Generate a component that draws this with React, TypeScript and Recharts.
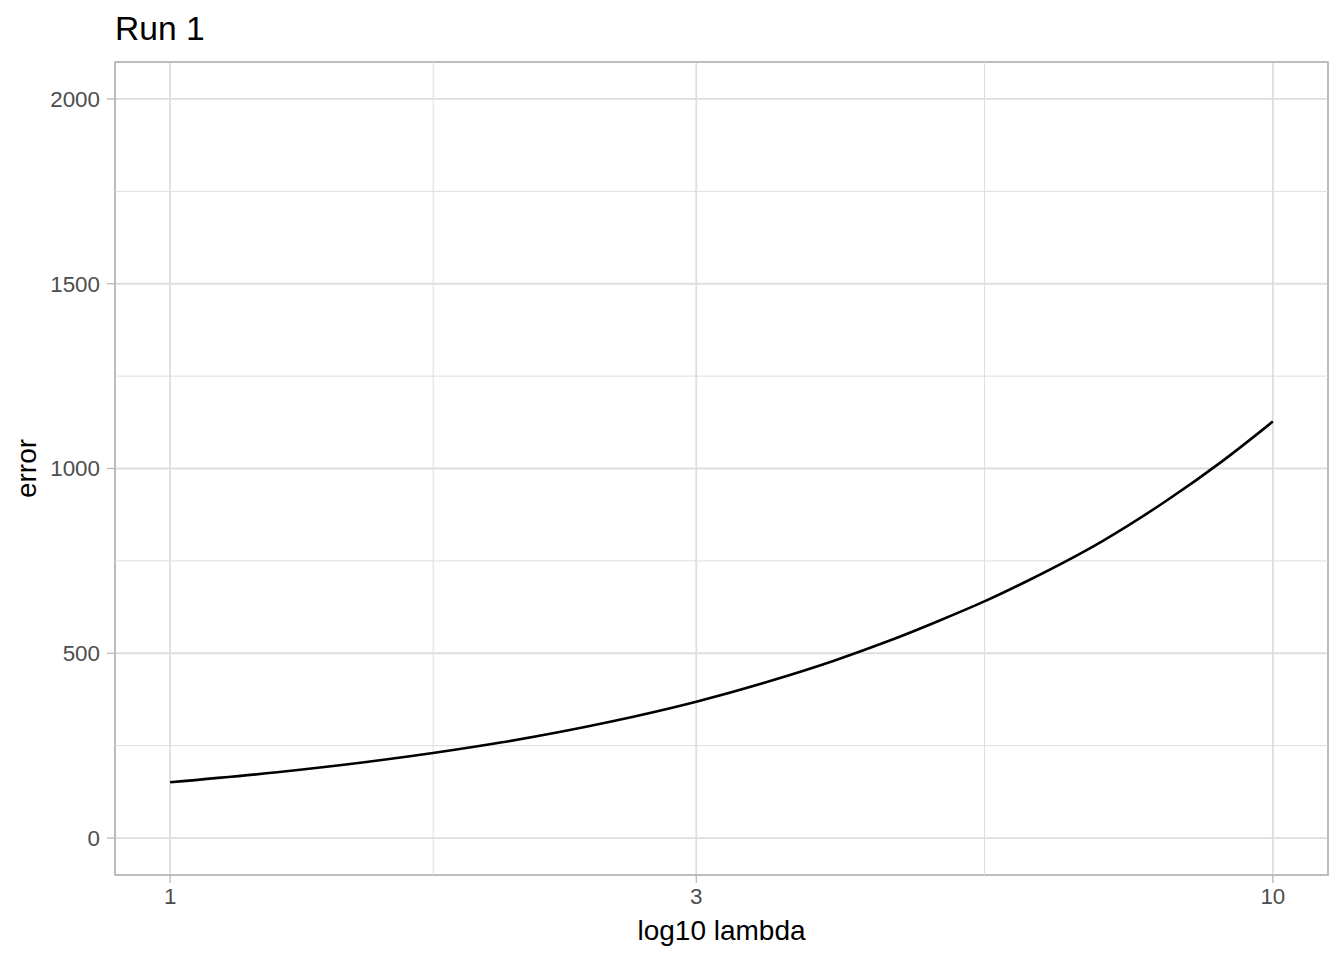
import React from 'react';
import {
  LineChart, Line, XAxis, YAxis, CartesianGrid, ReferenceLine, ReferenceArea, Label, Customized,
} from 'recharts';

// values
const lambdas = [1, 1.25, 1.5, 1.75, 2, 2.5, 3, 3.5, 4, 4.5, 5, 5.5, 6, 7, 8, 9, 10];
const errors = [151, 178, 205, 232, 259, 314, 369, 425, 480, 535, 590, 643, 697, 803, 912, 1020, 1127];

const xTicks = [1, 3, 10];
const yTicks = [0, 500, 1000, 1500, 2000];
const xMinor = [1.732, 5.477];
const yMinor = [250, 750, 1250, 1750];

const data = lambdas.map((l, i) => ({ lambda: l, error: errors[i] }));

const FONT = '"Liberation Sans", Arial, Helvetica, sans-serif';
const GRID = '#DEDEDE';
const BORDER = '#B3B3B3';

const Title = () => (
  <text x={115} y={40} fontFamily={FONT} fontSize={33.6} fill="#000">Run 1</text>
);

export default function App() {
  const xDomain = [0.8913, 11.22];
  const yDomain = [-100, 2100];

  return (
    <div style={{ position: 'absolute', left: 0, top: 0, width: 1344, height: 960, background: '#fff' }}>
      <LineChart width={1344} height={960} data={data} margin={{ top: 62, right: 16, bottom: 0, left: 0 }}>
        <CartesianGrid stroke={GRID} strokeWidth={1.8} />
        {xMinor.map((v) => (
          <ReferenceLine key={`mx-${v}`} x={v} stroke={GRID} strokeWidth={1} />
        ))}
        {yMinor.map((v) => (
          <ReferenceLine key={`my-${v}`} y={v} stroke={GRID} strokeWidth={1} />
        ))}
        <XAxis
          dataKey="lambda"
          type="number"
          scale="log"
          domain={xDomain}
          allowDataOverflow
          ticks={xTicks}
          height={85}
          axisLine={false}
          tickLine={{ stroke: BORDER, strokeWidth: 1.2 }}
          tickSize={8}
          tickMargin={5}
          tick={{ fill: '#4D4D4D', fontSize: 22.4, fontFamily: FONT }}
        >
          <Label
            content={({ viewBox }: any) => (
              <text
                x={viewBox.x + viewBox.width / 2}
                y={viewBox.y + viewBox.height - 20}
                textAnchor="middle"
                fontFamily={FONT}
                fontSize={28}
                fill="#000"
              >
                log10 lambda
              </text>
            )}
          />
        </XAxis>
        <YAxis
          type="number"
          domain={yDomain}
          allowDataOverflow
          ticks={yTicks}
          width={115}
          axisLine={false}
          tickLine={{ stroke: BORDER, strokeWidth: 1.2 }}
          tickSize={8}
          tickMargin={7}
          tick={{ fill: '#4D4D4D', fontSize: 22.4, fontFamily: FONT }}
        >
          <Label
            content={({ viewBox }: any) => {
              const cx = viewBox.x + 36;
              const cy = viewBox.y + viewBox.height / 2;
              return (
                <text
                  x={cx}
                  y={cy}
                  textAnchor="middle"
                  transform={`rotate(-90 ${cx} ${cy})`}
                  fontFamily={FONT}
                  fontSize={28}
                  fill="#000"
                >
                  error
                </text>
              );
            }}
          />
        </YAxis>
        <Line
          type="monotone"
          dataKey="error"
          stroke="#000"
          strokeWidth={2.6}
          dot={false}
          activeDot={false}
          isAnimationActive={false}
        />
        <ReferenceArea
          x1={xDomain[0]}
          x2={xDomain[1]}
          y1={yDomain[0]}
          y2={yDomain[1]}
          fill="none"
          fillOpacity={0}
          stroke={BORDER}
          strokeWidth={1.6}
          ifOverflow="visible"
        />
        <Customized component={<Title />} />
      </LineChart>
    </div>
  );
}
